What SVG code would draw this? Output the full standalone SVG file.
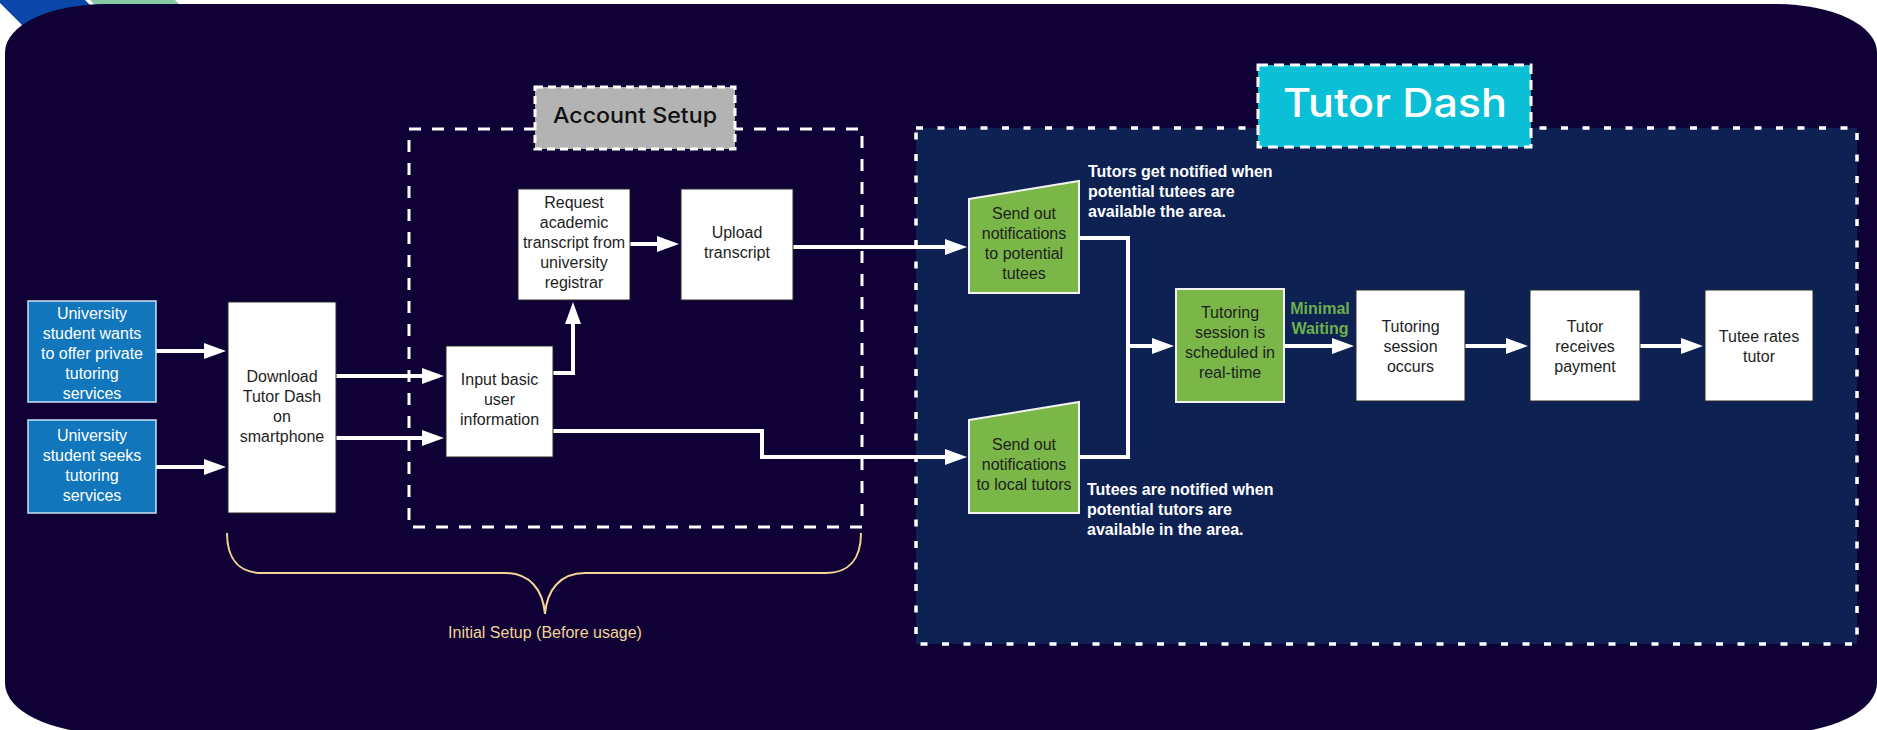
<svg xmlns="http://www.w3.org/2000/svg" width="1877" height="730" viewBox="0 0 1877 730">
  <style>
    .node-text { font-family: "Liberation Sans", Arial, sans-serif; font-size: 16px; fill: #1e1e1e; text-anchor: middle; }
    .node-text.light { fill: #ffffff; }
    .note { font-family: "Liberation Sans", Arial, sans-serif; font-size: 16px; font-weight: bold; fill: #ffffff; }
    .wait { font-family: "Liberation Sans", Arial, sans-serif; font-size: 16px; font-weight: bold; fill: #6cb04c; text-anchor: middle; }
    .white-box { fill: #ffffff; stroke: #2a2a2a; stroke-width: 1; }
    .blue-box { fill: #1176bc; stroke: #cfe3f3; stroke-width: 1.5; }
    .green-box { fill: #7ab648; stroke: #f2f2f2; stroke-width: 2; }
    .conn { fill: none; stroke: #ffffff; stroke-width: 4; stroke-linejoin: miter; }
    .frame { fill: none; stroke: #ffffff; stroke-width: 3; stroke-dasharray: 12 11; }
    .title { font-family: Inter, "DejaVu Sans", sans-serif; font-weight: 500; }
  </style>
  <defs>
    <marker id="arrow" markerUnits="userSpaceOnUse" markerWidth="22" markerHeight="16" refX="12" refY="8" orient="auto">
      <path d="M0,0 L22,8 L0,16 Z" fill="#ffffff"/>
    </marker>
  </defs>

  <!-- page backdrop with decorative stripes -->
  <rect x="0" y="0" width="1877" height="730" fill="#ffffff"/>
  <polygon points="0,0 85,0 185,100 97,100 0,3" fill="#0b47a8"/>
  <polygon points="90,0 175,0 275,100 190,100" fill="#86c9a4"/>
  <path d="M 105 4 H 1777 A 100 48 0 0 1 1877 52 V 683 A 100 50 0 0 1 1777 733 H 105 A 100 50 0 0 1 5 683 V 52 A 100 48 0 0 1 105 4 Z" fill="#0f0035"/>

  <!-- Tutor Dash region -->
  <g id="tutor-dash-region">
    <rect x="916" y="128" width="941" height="516" fill="#0d2152" stroke="#ffffff" stroke-width="3.5" stroke-dasharray="7 14.5"/>
  </g>

  <!-- Account Setup region -->
  <g id="account-setup-region">
    <rect x="409" y="129" width="453" height="398" class="frame"/>
  </g>

  <g id="account-setup-label">
    <rect x="535" y="87" width="200" height="62" fill="#b3b3b3" stroke="#ffffff" stroke-width="3" stroke-dasharray="8 5"/>
    <text x="635" y="123" class="title" font-size="21" fill="#111111" text-anchor="middle" textLength="164" lengthAdjust="spacingAndGlyphs">Account Setup</text>
  </g>

  <g id="tutor-dash-label">
    <rect x="1258" y="65" width="273" height="82" fill="#0abfd6" stroke="#ffffff" stroke-width="3" stroke-dasharray="10 6"/>
    <text x="1395" y="117" class="title" font-size="39" fill="#ffffff" text-anchor="middle" textLength="224" lengthAdjust="spacingAndGlyphs">Tutor Dash</text>
  </g>

  <!-- connectors -->
  <g id="connectors">
    <path class="conn" d="M156,351 H216" marker-end="url(#arrow)"/>
    <path class="conn" d="M156,467 H216" marker-end="url(#arrow)"/>
    <path class="conn" d="M336,376 H434" marker-end="url(#arrow)"/>
    <path class="conn" d="M336,438 H434" marker-end="url(#arrow)"/>
    <path class="conn" d="M553,373 H573 V312" marker-end="url(#arrow)"/>
    <path class="conn" d="M630,244 H669" marker-end="url(#arrow)"/>
    <path class="conn" d="M793,247 H957" marker-end="url(#arrow)"/>
    <path class="conn" d="M553,431 H762 V457 H957" marker-end="url(#arrow)"/>
    <path class="conn" d="M1079,238 H1128 V346 H1164" marker-end="url(#arrow)"/>
    <path class="conn" d="M1079,457 H1128 V344"/>
    <path class="conn" d="M1284,346 H1344" marker-end="url(#arrow)"/>
    <path class="conn" d="M1465,346 H1518" marker-end="url(#arrow)"/>
    <path class="conn" d="M1640,346 H1693" marker-end="url(#arrow)"/>
  </g>

  <!-- nodes -->
  <g id="student-offers">
    <rect x="28" y="301" width="128" height="101" class="blue-box"/>
    <text class="node-text light" x="92"><tspan x="92" y="319">University</tspan><tspan x="92" y="339">student wants</tspan><tspan x="92" y="359">to offer private</tspan><tspan x="92" y="379">tutoring</tspan><tspan x="92" y="399">services</tspan></text>
  </g>

  <g id="student-seeks">
    <rect x="28" y="420" width="128" height="93" class="blue-box"/>
    <text class="node-text light" x="92"><tspan x="92" y="441">University</tspan><tspan x="92" y="461">student seeks</tspan><tspan x="92" y="481">tutoring</tspan><tspan x="92" y="501">services</tspan></text>
  </g>

  <g id="download-app">
    <rect x="228" y="302" width="108" height="211" class="white-box"/>
    <text class="node-text" x="282"><tspan x="282" y="382">Download</tspan><tspan x="282" y="402">Tutor Dash</tspan><tspan x="282" y="422">on</tspan><tspan x="282" y="442">smartphone</tspan></text>
  </g>

  <g id="input-info">
    <rect x="446" y="346" width="107" height="111" class="white-box"/>
    <text class="node-text" x="499.5"><tspan x="499.5" y="385">Input basic</tspan><tspan x="499.5" y="405">user</tspan><tspan x="499.5" y="425">information</tspan></text>
  </g>

  <g id="request-transcript">
    <rect x="518" y="189" width="112" height="111" class="white-box"/>
    <text class="node-text" x="574"><tspan x="574" y="208">Request</tspan><tspan x="574" y="228">academic</tspan><tspan x="574" y="248">transcript from</tspan><tspan x="574" y="268">university</tspan><tspan x="574" y="288">registrar</tspan></text>
  </g>

  <g id="upload-transcript">
    <rect x="681" y="189" width="112" height="111" class="white-box"/>
    <text class="node-text" x="737"><tspan x="737" y="238">Upload</tspan><tspan x="737" y="258">transcript</tspan></text>
  </g>

  <g id="notify-tutees">
    <polygon points="969,199 1079,181 1079,293 969,293" class="green-box"/>
    <text class="node-text" x="1024"><tspan x="1024" y="219">Send out</tspan><tspan x="1024" y="239">notifications</tspan><tspan x="1024" y="259">to potential</tspan><tspan x="1024" y="279">tutees</tspan></text>
  </g>

  <g id="notify-tutors">
    <polygon points="969,420 1079,402 1079,513 969,513" class="green-box"/>
    <text class="node-text" x="1024"><tspan x="1024" y="450">Send out</tspan><tspan x="1024" y="470">notifications</tspan><tspan x="1024" y="490">to local tutors</tspan></text>
  </g>

  <g id="session-scheduled">
    <rect x="1176" y="289" width="108" height="113" class="green-box"/>
    <text class="node-text" x="1230"><tspan x="1230" y="318">Tutoring</tspan><tspan x="1230" y="338">session is</tspan><tspan x="1230" y="358">scheduled in</tspan><tspan x="1230" y="378">real-time</tspan></text>
  </g>

  <g id="session-occurs">
    <rect x="1356" y="290" width="109" height="111" class="white-box"/>
    <text class="node-text" x="1410.5"><tspan x="1410.5" y="332">Tutoring</tspan><tspan x="1410.5" y="352">session</tspan><tspan x="1410.5" y="372">occurs</tspan></text>
  </g>

  <g id="tutor-paid">
    <rect x="1530" y="290" width="110" height="111" class="white-box"/>
    <text class="node-text" x="1585"><tspan x="1585" y="332">Tutor</tspan><tspan x="1585" y="352">receives</tspan><tspan x="1585" y="372">payment</tspan></text>
  </g>

  <g id="tutee-rates">
    <rect x="1705" y="290" width="108" height="111" class="white-box"/>
    <text class="node-text" x="1759"><tspan x="1759" y="342">Tutee rates</tspan><tspan x="1759" y="362">tutor</tspan></text>
  </g>

  <!-- annotations -->
  <g id="note-tutors">
    <text class="note"><tspan x="1088" y="177">Tutors get notified when</tspan><tspan x="1088" y="197">potential tutees are</tspan><tspan x="1088" y="217">available the area.</tspan></text>
  </g>
  <g id="note-tutees">
    <text class="note"><tspan x="1087" y="495">Tutees are notified when</tspan><tspan x="1087" y="515">potential tutors are</tspan><tspan x="1087" y="535">available in the area.</tspan></text>
  </g>
  <g id="note-waiting">
    <text class="wait"><tspan x="1320" y="314">Minimal</tspan><tspan x="1320" y="334">Waiting</tspan></text>
  </g>

  <!-- setup brace -->
  <g id="initial-setup">
    <path d="M227,533 C227,560 240,573 262,573 H505 C530,573 543,590 545,614 C547,590 560,573 585,573 H826 C848,573 861,560 861,533" fill="none" stroke="#f2d497" stroke-width="2"/>
    <text x="545" y="638" font-family="Liberation Sans, Arial, sans-serif" font-size="16" fill="#f2d497" text-anchor="middle">Initial Setup (Before usage)</text>
  </g>
</svg>
